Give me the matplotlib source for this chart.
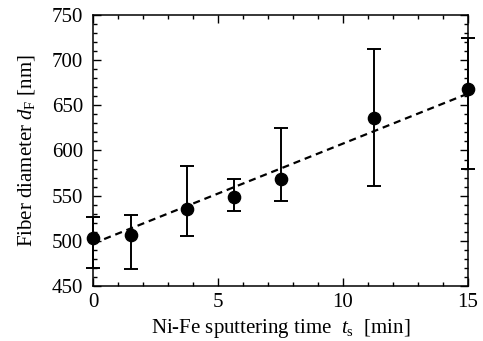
import matplotlib
matplotlib.use("Agg")
import matplotlib.pyplot as plt
from matplotlib.ticker import MultipleLocator

plt.rcParams['font.family'] = ['Liberation Serif', 'DejaVu Serif']
plt.rcParams['mathtext.fontset'] = 'custom'
plt.rcParams['mathtext.rm'] = 'Liberation Serif'
plt.rcParams['mathtext.it'] = 'Liberation Serif:italic'

t_s = [0, 1.5, 3.75, 5.625, 7.5, 11.25, 15]
d_f = [503, 506, 535, 548, 569, 636, 668]
err_low = [33, 37, 30, 15, 25, 75, 88]
err_high = [23, 23, 48, 20, 56, 76, 57]
fit_x = [0, 15]
fit_y = [497, 663]

fig = plt.figure(figsize=(4.83, 3.41), dpi=100)
ax = fig.add_axes([93/483, 1-286/341, (468-93)/483, (286-15)/341])

ax.plot(fit_x, fit_y, ls=(0, (3.2, 2.2)), color='black', lw=1.6, zorder=2)
ax.errorbar(t_s, d_f, yerr=[err_low, err_high], fmt='o', color='black',
            ms=8.8, elinewidth=1.4, capsize=5, capthick=1.4, clip_on=False, zorder=3)

ax.set_xlim(0, 15)
ax.set_ylim(450, 750)
ax.xaxis.set_major_locator(MultipleLocator(5))
ax.xaxis.set_minor_locator(MultipleLocator(1))
ax.yaxis.set_major_locator(MultipleLocator(50))
ax.yaxis.set_minor_locator(MultipleLocator(10))
ax.tick_params(which='both', direction='in', top=True, right=True, labelsize=15, width=1)
ax.tick_params(which='major', length=6)
ax.tick_params(which='minor', length=3)
ax.tick_params(axis='x', pad=5)
ax.tick_params(axis='y', pad=7)
for s in ax.spines.values():
    s.set_linewidth(1.1)

ax.set_xlabel(r'Ni-Fe sputtering time  $t_\mathrm{s}$  [min]', fontsize=15, labelpad=4)
ax.set_ylabel(r'Fiber diameter $d_\mathrm{F}$ [nm]', fontsize=15, labelpad=11)

fig.savefig('out.png', dpi=100)
